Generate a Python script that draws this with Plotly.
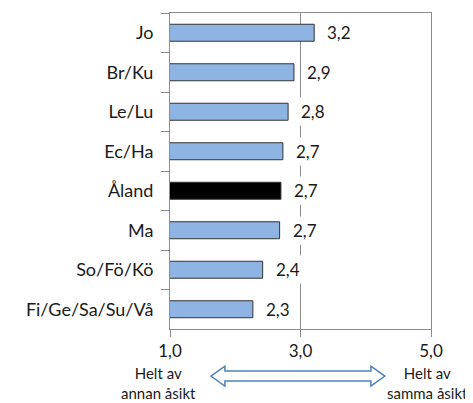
import plotly.graph_objects as go

categories = ["Jo", "Br/Ku", "Le/Lu", "Ec/Ha", "Åland", "Ma", "So/Fö/Kö", "Fi/Ge/Sa/Su/Vå"]
values = [3.21, 2.90, 2.81, 2.73, 2.70, 2.68, 2.42, 2.27]
highlight = "Åland"
x_ticks = [1, 3, 5]
left_label = "Helt av<br>annan åsikt"
right_label = "Helt av<br>samma åsikt"

FONT = "Lato"
TXT = "#1a1a1a"
GRID = "#8c8c8c"

colors = ["#000000" if c == highlight else "#8EB4E3" for c in categories]

fig = go.Figure(go.Bar(
    x=values, y=categories, orientation="h", base=0,
    marker=dict(color=colors, line=dict(color="#333333", width=1)),
    width=0.43,
))

for c, v in zip(categories, values):
    fig.add_annotation(
        x=v, y=c, xref="x", yref="y", text=f"{v:.1f}".replace(".", ","),
        showarrow=False, xanchor="left", xshift=9, bgcolor="white", borderpad=3,
        font=dict(family=FONT, size=17, color=TXT),
    )

fig.add_annotation(x=0.0, y=-0.172, xref="paper", yref="paper", text=left_label,
                   showarrow=False, xanchor="center", yanchor="middle", xshift=-12,
                   font=dict(family=FONT, size=15, color=TXT))
fig.add_annotation(x=1.0, y=-0.172, xref="paper", yref="paper", text=right_label,
                   showarrow=False, xanchor="center", yanchor="middle", xshift=-4,
                   font=dict(family=FONT, size=15, color=TXT))

fig.add_shape(
    type="path", xref="paper", yref="paper", xsizemode="pixel", ysizemode="pixel",
    xanchor=0.49, yanchor=-0.149,
    path="M -87,0 L -73,10 L -73,5 L 73,5 L 73,10 L 87,0 L 73,-10 L 73,-5 L -73,-5 L -73,-10 Z",
    line=dict(color="#4F81BD", width=1.5), fillcolor="white", layer="above",
)

fig.update_layout(
    width=465, height=395,
    margin=dict(l=162, r=42, t=5, b=74, autoexpand=False),
    plot_bgcolor="white", paper_bgcolor="white",
    showlegend=False, separators=",.",
    font=dict(family=FONT, color=TXT),
)
fig.update_xaxes(
    range=[1, 5], tickvals=x_ticks, tickformat=".1f", automargin=False,
    showgrid=True, gridcolor=GRID, gridwidth=1,
    showline=True, linecolor=GRID, linewidth=1, mirror=True,
    ticks="outside", ticklen=7, tickcolor=GRID,
    tickfont=dict(family=FONT, size=17, color=TXT), zeroline=False,
)
fig.update_yaxes(
    categoryorder="array", categoryarray=categories, autorange="reversed",
    automargin=False,
    showline=True, linecolor=GRID, linewidth=1, mirror=True,
    ticks="outside", ticklen=8, tickcolor=GRID, tickson="boundaries",
    ticklabelstandoff=12,
    tickfont=dict(family=FONT, size=18, color=TXT), showgrid=False,
)

fig.write_html("out.html")
